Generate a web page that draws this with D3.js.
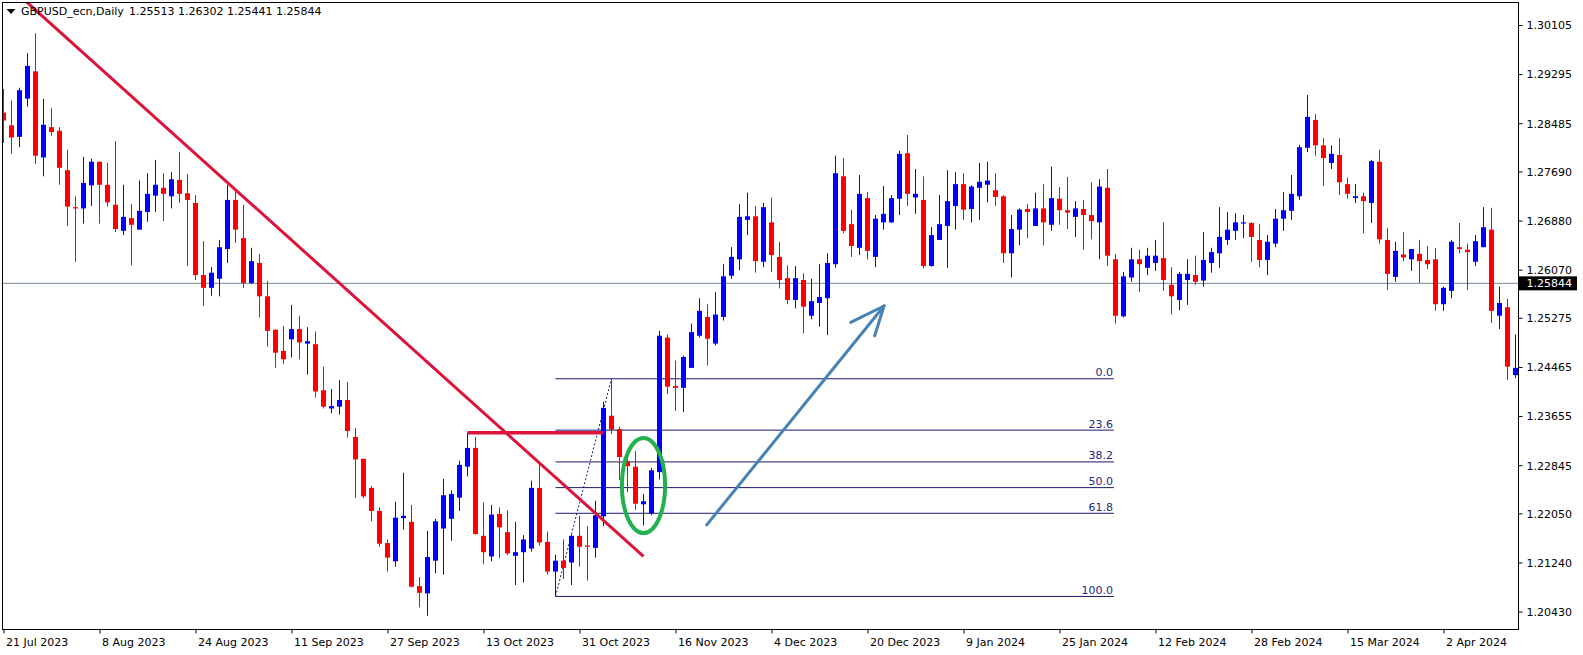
<!DOCTYPE html>
<html>
<head>
<meta charset="utf-8">
<script src="https://cdn.jsdelivr.net/npm/d3@7"></script>
<style>
  html, body { margin: 0; padding: 0; background: #ffffff; }
  svg { display: block; }
  text { font-family: "DejaVu Sans", Verdana, sans-serif; }
</style>
</head>
<body>
<svg id="chart" width="1583" height="655"></svg>
<script>
// ---------------- DATA ----------------
const symbolTitle = "GBPUSD_ecn,Daily";
const headerQuote = "1.25513 1.26302 1.25441 1.25844";
const currentPrice = 1.25844;

const open = [
1.2866,1.2845,1.2826,1.2889,1.2934,1.2792,1.2842,1.2836,1.2771,1.2710,
1.2708,1.2746,1.2785,1.2747,1.2714,1.2671,1.2692,1.2673,1.2702,1.2729,
1.2742,1.2728,1.2755,1.2733,1.2717,1.2598,1.2577,1.2592,1.2641,1.2722,
1.2659,1.2585,1.2618,1.2563,1.2508,1.2473,1.2492,1.2509,1.2485,1.2484,
1.2408,1.2378,1.2381,1.2392,1.2331,1.2295,1.2247,1.2209,1.2156,1.2126,
1.2197,1.2191,1.2085,1.2073,1.2127,1.2180,1.2196,1.2231,1.2282,1.2313,
1.2168,1.2134,1.2204,1.2174,1.2135,1.2141,1.2147,1.2247,1.2158,1.2109,
1.2127,1.2124,1.2168,1.2152,1.2148,1.2200,1.2366,1.2344,1.2291,1.2282,
1.2220,1.2205,1.2273,1.2495,1.2415,1.2412,1.2445,1.2498,1.2529,1.2485,
1.2529,1.2597,1.2624,1.2689,1.2695,1.2620,1.2685,1.2628,1.2593,1.2557,
1.2590,1.2531,1.2552,1.2560,1.2616,1.2761,1.2682,1.2643,1.2725,1.2628,
1.2685,1.2685,1.2724,1.2799,1.2726,1.2722,1.2613,1.2656,1.2679,1.2712,
1.2748,1.2707,1.2742,1.2747,1.2738,1.2728,1.2634,1.2673,1.2707,1.2679,
1.2708,1.2681,1.2724,1.2705,1.2694,1.2707,1.2697,1.2685,1.2742,1.2624,
1.2530,1.2594,1.2624,1.2610,1.2618,1.2626,1.2582,1.2557,1.2590,1.2598,
1.2589,1.2618,1.2634,1.2656,1.2671,1.2683,1.2684,1.2656,1.2623,1.2650,
1.2691,1.2704,1.2728,1.2808,1.2854,1.2812,1.2783,1.2796,1.2748,1.2725,
1.2728,1.2717,1.2785,1.2656,1.2595,1.2632,1.2624,1.2633,1.2623,1.2624,
1.2550,1.2572,1.2644,1.2640,1.2620,1.2644,1.2673,1.2531,1.2545,1.2433
];
const high = [
1.2905,1.2886,1.2907,1.2964,1.2997,1.2889,1.2874,1.2842,1.2805,1.2728,
1.2793,1.2790,1.2785,1.2783,1.2819,1.2747,1.2715,1.2754,1.2766,1.2788,
1.2766,1.2768,1.2801,1.2765,1.2730,1.2654,1.2611,1.2656,1.2747,1.2736,
1.2714,1.2643,1.2633,1.2588,1.2508,1.2514,1.2549,1.2531,1.2512,1.2505,
1.2447,1.2410,1.2425,1.2422,1.2346,1.2295,1.2250,1.2215,1.2162,1.2224,
1.2272,1.2219,1.2100,1.2176,1.2196,1.2262,1.2243,1.2292,1.2338,1.2331,
1.2223,1.2219,1.2215,1.2210,1.2191,1.2169,1.2259,1.2286,1.2175,1.2137,
1.2162,1.2170,1.2201,1.2184,1.2226,1.2389,1.2427,1.2348,1.2296,1.2308,
1.2237,1.2280,1.2506,1.2500,1.2457,1.2465,1.2518,1.2560,1.2550,1.2570,
1.2616,1.2644,1.2715,1.2734,1.2712,1.2717,1.2726,1.2653,1.2614,1.2613,
1.2601,1.2592,1.2616,1.2634,1.2795,1.2791,1.2706,1.2763,1.2735,1.2697,
1.2745,1.2730,1.2803,1.2829,1.2773,1.2761,1.2677,1.2730,1.2771,1.2768,
1.2766,1.2746,1.2783,1.2785,1.2766,1.2730,1.2697,1.2708,1.2715,1.2734,
1.2748,1.2777,1.2743,1.2760,1.2720,1.2722,1.2751,1.2756,1.2773,1.2633,
1.2603,1.2643,1.2640,1.2643,1.2656,1.2685,1.2611,1.2603,1.2624,1.2630,
1.2669,1.2643,1.2710,1.2702,1.2700,1.2697,1.2685,1.2682,1.2664,1.2707,
1.2735,1.2763,1.2813,1.2895,1.2864,1.2824,1.2812,1.2824,1.2759,1.2748,
1.2734,1.2788,1.2805,1.2676,1.2653,1.2669,1.2641,1.2656,1.2646,1.2643,
1.2579,1.2656,1.2684,1.2650,1.2664,1.2710,1.2709,1.2579,1.2559,1.2500
];
const low = [
1.2816,1.2798,1.2809,1.2876,1.2781,1.2761,1.2828,1.2747,1.2679,1.2620,
1.2683,1.2712,1.2683,1.2711,1.2669,1.2664,1.2614,1.2673,1.2686,1.2702,
1.2687,1.2708,1.2717,1.2613,1.2590,1.2547,1.2564,1.2563,1.2618,1.2651,
1.2577,1.2583,1.2528,1.2480,1.2445,1.2451,1.2462,1.2459,1.2434,1.2396,
1.2378,1.2370,1.2368,1.2330,1.2230,1.2230,1.2192,1.2150,1.2109,1.2117,
1.2178,1.2083,1.2050,1.2036,1.2106,1.2104,1.2160,1.2209,1.2266,1.2170,
1.2121,1.2126,1.2131,1.2136,1.2087,1.2091,1.2142,1.2152,1.2104,1.2068,
1.2097,1.2087,1.2117,1.2094,1.2132,1.2184,1.2336,1.2260,1.2240,1.2211,
1.2185,1.2202,1.2261,1.2402,1.2374,1.2372,1.2445,1.2495,1.2449,1.2482,
1.2523,1.2592,1.2606,1.2664,1.2602,1.2611,1.2603,1.2576,1.2550,1.2543,
1.2502,1.2525,1.2513,1.2499,1.2610,1.2667,1.2628,1.2631,1.2624,1.2611,
1.2673,1.2684,1.2697,1.2712,1.2699,1.2609,1.2612,1.2656,1.2610,1.2673,
1.2689,1.2685,1.2689,1.2718,1.2712,1.2618,1.2594,1.2647,1.2659,1.2679,
1.2647,1.2671,1.2681,1.2674,1.2661,1.2640,1.2657,1.2624,1.2613,1.2518,
1.2528,1.2587,1.2570,1.2598,1.2605,1.2572,1.2533,1.2540,1.2549,1.2582,
1.2579,1.2602,1.2610,1.2648,1.2656,1.2659,1.2620,1.2611,1.2598,1.2644,
1.2671,1.2689,1.2722,1.2801,1.2795,1.2745,1.2773,1.2730,1.2724,1.2717,
1.2667,1.2684,1.2650,1.2573,1.2587,1.2621,1.2605,1.2585,1.2608,1.2539,
1.2539,1.2560,1.2634,1.2573,1.2613,1.2644,1.2519,1.2509,1.2425,1.2428
];
const close = [
1.2853,1.2825,1.2903,1.2943,1.2795,1.2846,1.2834,1.2775,1.2711,1.2708,
1.2750,1.2785,1.2747,1.2718,1.2674,1.2694,1.2681,1.2704,1.2732,1.2747,
1.2732,1.2756,1.2732,1.2722,1.2598,1.2577,1.2602,1.2644,1.2722,1.2673,
1.2585,1.2621,1.2563,1.2506,1.2470,1.2459,1.2509,1.2487,1.2489,1.2406,
1.2381,1.2382,1.2392,1.2341,1.2294,1.2233,1.2209,1.2155,1.2132,1.2198,
1.2201,1.2084,1.2074,1.2133,1.2192,1.2235,1.2237,1.2285,1.2313,1.2171,
1.2141,1.2203,1.2182,1.2139,1.2141,1.2162,1.2247,1.2157,1.2109,1.2127,
1.2115,1.2168,1.2150,1.2150,1.2202,1.2379,1.2343,1.2298,1.2283,1.2221,
1.2225,1.2276,1.2498,1.2414,1.2412,1.2463,1.2504,1.2539,1.2493,1.2533,
1.2596,1.2628,1.2694,1.2695,1.2621,1.2710,1.2631,1.2590,1.2557,1.2593,
1.2546,1.2555,1.2562,1.2618,1.2766,1.2671,1.2646,1.2732,1.2638,1.2691,
1.2699,1.2725,1.2798,1.2732,1.2732,1.2613,1.2664,1.2682,1.2720,1.2748,
1.2706,1.2744,1.2752,1.2754,1.2727,1.2634,1.2674,1.2706,1.2702,1.2708,
1.2685,1.2725,1.2705,1.2701,1.2708,1.2697,1.2687,1.2744,1.2630,1.2531,
1.2596,1.2624,1.2616,1.2630,1.2630,1.2590,1.2563,1.2600,1.2600,1.2587,
1.2623,1.2636,1.2661,1.2673,1.2685,1.2685,1.2661,1.2623,1.2653,1.2691,
1.2705,1.2732,1.2809,1.2859,1.2812,1.2791,1.2798,1.2751,1.2732,1.2728,
1.2720,1.2786,1.2657,1.2600,1.2638,1.2627,1.2641,1.2621,1.2616,1.2550,
1.2577,1.2653,1.2641,1.2636,1.2654,1.2677,1.2539,1.2552,1.2447,1.2445
];

const firstDate = "2023-07-21";
const missingDays = ["2023-12-25", "2024-01-01"];
const timeTickLabels = ["21 Jul 2023","8 Aug 2023","24 Aug 2023","11 Sep 2023","27 Sep 2023",
  "13 Oct 2023","31 Oct 2023","16 Nov 2023","4 Dec 2023","20 Dec 2023","9 Jan 2024",
  "25 Jan 2024","12 Feb 2024","28 Feb 2024","15 Mar 2024","2 Apr 2024"];
const priceTickLabels = [1.30105,1.29295,1.28485,1.27690,1.26880,1.26070,1.25275,
  1.24465,1.23655,1.22845,1.22050,1.21240,1.20430];

// analysis drawings (bar index, price)
const trendLine = [[2, 1.3059], [80, 1.2134]];
const breakLine = [[58, 1.2338], [75, 1.2338]];
const fibLowPoint = [69, 1.2068];
const fibHighPoint = [76, 1.2427];
const fibRightBar = 138.8;
const fibLevels = [0.0, 23.6, 38.2, 50.0, 61.8, 100.0];
const ellipseCenter = [80, 1.2251];
const ellipseRadius = [2.7, 0.00785];
const arrowStart = [87.9, 1.2186];
const arrowTip = [110.06, 1.2547];
const arrowBarbs = [[105.9, 1.2520], [108.9, 1.2498]];

// ---------------- CHART ----------------
const svg = d3.select("#chart");
const W = 1583, H = 655;
const plot = { left: 2.5, top: 2.5, right: 1518.5, bottom: 629.5 };

svg.append("rect").attr("width", W).attr("height", H).attr("fill", "#ffffff");

const n = open.length;
const x = d3.scaleLinear().domain([0, n - 1]).range([3.5, 3.5 + 8 * (n - 1)]);
const y = d3.scaleLinear().domain([1.20430, 1.30105]).range([611.6, 25]);

// trading dates
const parseISO = d3.timeParse("%Y-%m-%d");
const fmtISO = d3.timeFormat("%Y-%m-%d");
const fmtLabel = d3.timeFormat("%-d %b %Y");
const dates = [];
{
  let d = parseISO(firstDate);
  while (dates.length < n) {
    const wd = d.getDay();
    if (wd !== 0 && wd !== 6 && !missingDays.includes(fmtISO(d))) dates.push(new Date(d));
    d = d3.timeDay.offset(d, 1);
  }
}
const tickIdx = timeTickLabels.map(l => dates.findIndex(dt => fmtLabel(dt) === l));

svg.append("defs").append("clipPath").attr("id", "plotClip")
  .append("rect")
  .attr("x", plot.left).attr("y", plot.top)
  .attr("width", plot.right - plot.left).attr("height", plot.bottom - plot.top);

const plotG = svg.append("g").attr("clip-path", "url(#plotClip)");

// current price line
plotG.append("line")
  .attr("x1", plot.left).attr("x2", plot.right)
  .attr("y1", y(currentPrice)).attr("y2", y(currentPrice))
  .attr("stroke", "#778899").attr("stroke-width", 1);

// fibonacci
const fibG = plotG.append("g");
const fibColor = "#191970";
const fibRange = fibHighPoint[1] - fibLowPoint[1];
fibLevels.forEach(lv => {
  const p = fibHighPoint[1] - fibRange * lv / 100;
  fibG.append("line")
    .attr("x1", x(fibLowPoint[0])).attr("x2", x(fibRightBar))
    .attr("y1", y(p)).attr("y2", y(p))
    .attr("stroke", fibColor).attr("stroke-width", 1);
  fibG.append("text")
    .attr("x", x(fibRightBar) - 1).attr("y", y(p) - 2.5)
    .attr("text-anchor", "end").attr("font-size", 11)
    .attr("fill", "#262680")
    .text(lv.toFixed(1));
});
fibG.append("line")
  .attr("x1", x(fibLowPoint[0])).attr("y1", y(fibLowPoint[1]))
  .attr("x2", x(fibHighPoint[0])).attr("y2", y(fibHighPoint[1]))
  .attr("stroke", fibColor).attr("stroke-width", 1)
  .attr("stroke-dasharray", "2,2");

// candles
const candles = plotG.append("g").selectAll("g").data(d3.range(n)).join("g")
  .attr("fill", i => close[i] >= open[i] ? "#0000ff" : "#ff0000")
  .attr("stroke", i => close[i] >= open[i] ? "#0000ff" : "#ff0000");
candles.append("line")
  .attr("x1", i => x(i)).attr("x2", i => x(i))
  .attr("y1", i => y(high[i])).attr("y2", i => y(low[i]))
  .attr("stroke-width", 1);
candles.append("rect")
  .attr("x", i => x(i) - 2.5).attr("width", 5)
  .attr("y", i => y(Math.max(open[i], close[i])))
  .attr("height", i => Math.max(1, Math.abs(y(open[i]) - y(close[i]))))
  .attr("stroke", "none");

// trend line & horizontal break line
const crimson = "#dc143c";
plotG.append("line")
  .attr("x1", x(trendLine[0][0])).attr("y1", y(trendLine[0][1]))
  .attr("x2", x(trendLine[1][0])).attr("y2", y(trendLine[1][1]))
  .attr("stroke", crimson).attr("stroke-width", 3);
plotG.append("line")
  .attr("x1", x(breakLine[0][0])).attr("y1", y(breakLine[0][1]))
  .attr("x2", x(breakLine[1][0])).attr("y2", y(breakLine[1][1]))
  .attr("stroke", crimson).attr("stroke-width", 3.5);

// green ellipse
const ecx = x(ellipseCenter[0]), ecy = y(ellipseCenter[1]);
plotG.append("ellipse")
  .attr("cx", ecx).attr("cy", ecy)
  .attr("rx", x(ellipseCenter[0] + ellipseRadius[0]) - ecx)
  .attr("ry", y(ellipseCenter[1] - ellipseRadius[1]) - ecy)
  .attr("fill", "none").attr("stroke", "#22b14c").attr("stroke-width", 4);

// blue arrow
const arrowColor = "#4682b4";
plotG.append("line")
  .attr("x1", x(arrowStart[0])).attr("y1", y(arrowStart[1]))
  .attr("x2", x(arrowTip[0])).attr("y2", y(arrowTip[1]))
  .attr("stroke", arrowColor).attr("stroke-width", 3).attr("stroke-linecap", "round");
arrowBarbs.forEach(b => {
  plotG.append("line")
    .attr("x1", x(b[0])).attr("y1", y(b[1]))
    .attr("x2", x(arrowTip[0])).attr("y2", y(arrowTip[1]))
    .attr("stroke", arrowColor).attr("stroke-width", 3).attr("stroke-linecap", "round");
});

// frame
svg.append("rect")
  .attr("x", plot.left).attr("y", plot.top)
  .attr("width", plot.right - plot.left).attr("height", plot.bottom - plot.top)
  .attr("fill", "none").attr("stroke", "#000").attr("stroke-width", 1);

// header
svg.append("path").attr("d", "M6.5,9 L15.5,9 L11,14 Z").attr("fill", "#000");
svg.append("text").attr("x", 21).attr("y", 15).attr("font-size", 11).attr("fill", "#000").text(symbolTitle);
svg.append("text").attr("x", 129).attr("y", 15).attr("font-size", 11).attr("fill", "#000").text(headerQuote);

// price axis
const yAxis = d3.axisRight(y).tickValues(priceTickLabels)
  .tickFormat(d3.format(".5f")).tickSize(4).tickPadding(4);
const yg = svg.append("g").attr("transform", `translate(${plot.right},0)`).call(yAxis);
yg.select(".domain").remove();
yg.attr("font-family", null).attr("font-size", null);
yg.selectAll("text").attr("font-size", 11).attr("fill", "#000").attr("dy", "0.35em");

// time axis
const xAxis = d3.axisBottom(x).tickValues(tickIdx)
  .tickFormat((d, i) => timeTickLabels[i]).tickSize(4).tickPadding(5);
const xg = svg.append("g").attr("transform", `translate(0,${plot.bottom})`).call(xAxis);
xg.select(".domain").remove();
xg.attr("font-family", null).attr("font-size", null);
xg.selectAll("text").attr("font-size", 11).attr("fill", "#000")
  .attr("text-anchor", "start").attr("x", 2);

// current price label
const cpy = y(currentPrice);
svg.append("rect").attr("x", plot.right + 0.5).attr("y", cpy - 7)
  .attr("width", 58).attr("height", 14).attr("fill", "#000");
svg.append("text").attr("x", plot.right + 8).attr("y", cpy + 4)
  .attr("font-size", 11).attr("fill", "#fff").text(currentPrice.toFixed(5));
</script>
</body>
</html>
